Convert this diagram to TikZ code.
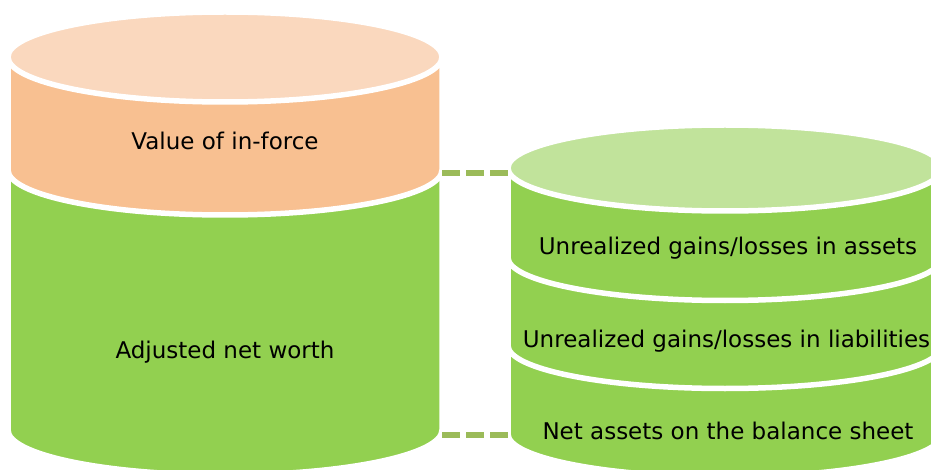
\documentclass[tikz,border=0pt]{standalone}
\usepackage{fontspec}
\setmainfont{DejaVu Sans}
\definecolor{orangeTop}{HTML}{FAD8BE}
\definecolor{orangeBody}{HTML}{F8C091}
\definecolor{greenBody}{HTML}{92D050}
\definecolor{greenTop}{HTML}{C1E39B}
\definecolor{linkGreen}{HTML}{9BBB59}
% one slice of a cylinder: #1 fill, #2 cx, #3 rx, #4 ry, #5 top y, #6 bottom y (y measured downwards)
\newcommand\cylslice[6]{%
  \path[slice, fill=#1] (#2-#3,-#5) -- (#2-#3,-#6)
    arc[start angle=180, end angle=360, x radius=#3, y radius=#4]
    -- (#2+#3,-#5)
    arc[start angle=0, end angle=180, x radius=#3, y radius=#4] -- cycle;}
\newcommand\cyltop[5]{%
  \path[slice, fill=#1] (#2,-#5) ellipse[x radius=#3, y radius=#4];}
\begin{document}
\begin{tikzpicture}[x=1pt, y=1pt,
  slice/.style={draw=white, line width=5.5pt, line join=round},
  label/.style={anchor=base, text=black, inner sep=0pt,
    font=\fontsize{23}{27}\selectfont},
  link/.style={draw=linkGreen, line width=5.5pt, dash pattern=on 18pt off 6pt}]
  \useasboundingbox (0,0) rectangle (931,-470);
  \clip (0,0) rectangle (931,-470);

  % left cylinder: adjusted net worth below, value of in-force above
  \cylslice{greenBody}{225}{217}{45}{170}{430}
  \cylslice{orangeBody}{225}{217}{45}{57}{170}
  \cyltop{orangeTop}{225}{217}{45}{57}

  % right cylinder: three stacked components
  \cylslice{greenBody}{725}{217}{43}{345.5}{434}
  \cylslice{greenBody}{725}{217}{43}{257.5}{345.5}
  \cylslice{greenBody}{725}{217}{43}{168}{257.5}
  \cyltop{greenTop}{725}{217}{43}{168}

  % corner points joined by the dashed links
  \coordinate (leftUpper) at (442,-173);
  \coordinate (rightUpper) at (508,-173);
  \coordinate (leftLower) at (442,-435);
  \coordinate (rightLower) at (508,-435);
  \draw[link] (leftUpper) -- (rightUpper);
  \draw[link] (leftLower) -- (rightLower);

  % labels
  \node[label] (vif) at (225,-150) {Value of in-force};
  \node[label] (anw) at (225,-358.3) {Adjusted net worth};
  \node[label] (ugla) at (728,-254.3) {Unrealized gains/losses in assets};
  \node[label, anchor=base west] (ugll) at (522.7,-347.7) {Unrealized gains/losses in liabilities};
  \node[label] (nabs) at (728,-439.3) {Net assets on the balance sheet};
\end{tikzpicture}
\end{document}
